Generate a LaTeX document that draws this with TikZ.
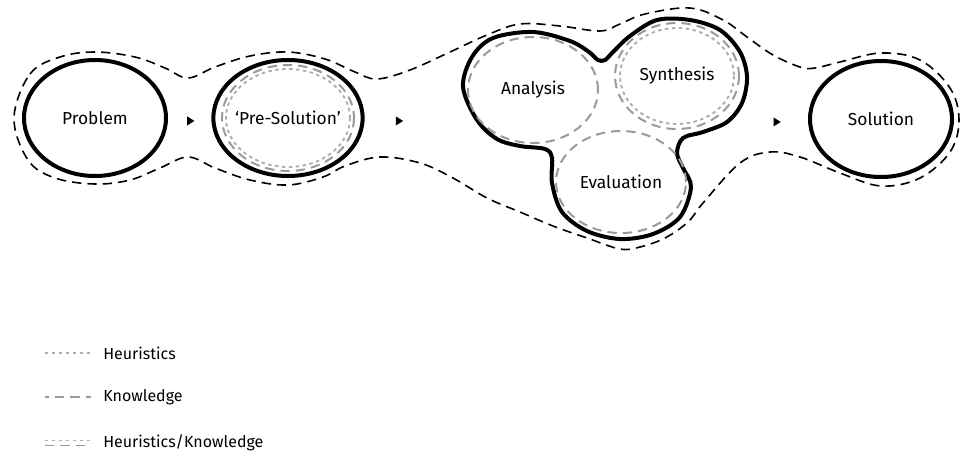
\documentclass[tikz,border=0pt]{standalone}
\usepackage{fontspec}
\setmainfont{Fira Sans}
\usetikzlibrary{shapes.geometric,calc}
\definecolor{knowgrey}{HTML}{9A9A9A}
\definecolor{heurgrey}{HTML}{ADADAD}
\tikzset{
  stage/.style={ellipse, draw=black, line width=3pt, minimum width=106.5pt, minimum height=87pt, inner sep=0pt, font=\fontsize{13}{15}\selectfont},
  ring/.style={ellipse, inner sep=0pt, font=\fontsize{13}{15}\selectfont},
  know/.style={draw=knowgrey, line width=1.5pt, dash pattern=on 7pt off 4.5pt},
  heur/.style={draw=heurgrey, line width=1.4pt, dash pattern=on 2.6pt off 2.6pt},
  env/.style={draw=black, line width=1.2pt, dash pattern=on 7pt off 4.5pt},
  blob/.style={draw=black, line width=3pt},
  tri/.style={isosceles triangle, isosceles triangle stretches, fill=black, inner sep=0pt, minimum width=6.8pt, minimum height=5.4pt, yshift=-2.2pt},
  key/.style={anchor=west, inner sep=0pt, font=\fontsize{12}{14}\selectfont},
}

\begin{document}
\begin{tikzpicture}[x=0.75pt, y=-0.75pt]
  \useasboundingbox (0,0) rectangle (963,457);
  \draw[env] plot[smooth cycle, tension=0.6] coordinates {
    (14,118) (30,74) (60,57) (95,52) (135,57) (165,68) (188,78) (215,67) (250,56) (288,52)
    (325,59) (355,72) (377,79) (410,70) (450,52) (487,35) (520,24) (560,26) (600,31) (620,24)
    (645,14) (690,8) (723,20) (747,37) (773,55) (800,67) (815,68) (840,62) (881,53) (920,60)
    (950,88) (959,120) (950,152) (920,178) (881,186) (840,173) (800,157) (770,152) (740,163)
    (703,203) (688,222) (665,238) (640,247) (620,249) (587,238) (553,226) (520,212) (487,198)
    (453,178) (420,163) (380,157) (345,166) (323,177) (288,185) (250,180) (215,168) (188,157)
    (160,168) (130,180) (95,184) (55,178) (28,160)};
  \draw[blob] plot[smooth cycle, tension=0.55] coordinates {
    (463,87) (472,57) (493,38) (533,32) (570,41) (589,52) (598,60) (605,60) (613,52) (630,36) (657,20)
    (690,20) (720,30) (740,52) (747,77) (742,103) (727,122) (703,132) (683,138) (677,153)
    (683,168) (691,187) (680,217) (653,234) (620,239) (587,231) (562,212) (552,183) (552,158)
    (545,149) (520,146) (497,139) (477,120)};

  \node[stage] (prob) at (95,118) {Problem};
  \node[stage] (pre) at (288,118) {‘Pre-Solution’};
  \node[stage] (sol) at (881,119) {Solution};
  \draw[know] (pre.center) ellipse [x radius=66, y radius=53];
  \draw[heur] (pre.center) ellipse [x radius=62, y radius=49];

  \node[ring, know, minimum width=97.5pt, minimum height=79.5pt] (ana) at (533,90) {Analysis};
  \node[ring, know, minimum width=93pt, minimum height=79.5pt] (syn) at (677,76) {Synthesis};
  \draw[heur] (syn.center) ellipse [x radius=57, y radius=48];
  \node[ring, know, minimum width=97.5pt, minimum height=76.5pt] (eva) at (621,182) {Evaluation};

  \path (prob) -- node[tri] {} (pre);
  \path (pre.east) -- node[tri, pos=0.33] {} (ana.west |- pre.east);
  \path (syn.east |- sol.west) -- node[tri, pos=0.53] {} (sol.west);

  \foreach \nm/\y/\tx in {legh/353/Heuristics, legk/397/Knowledge, leghk/443/{Heuristics/Knowledge}}
    \node[key] (\nm) at (103,\y) {\tx};
  \draw[heur] ($(legh.west)+(-58,0)$) -- ($(legh.west)+(-12,0)$);
  \draw[know, dash phase=4pt] ($(legk.west)+(-58,0)$) -- ($(legk.west)+(-12,0)$);
  \draw[heur] ($(leghk.west)+(-58,-2.5)$) -- ($(leghk.west)+(-12,-2.5)$);
  \draw[know, line width=1.2pt] ($(leghk.west)+(-58,2.5)$) -- ($(leghk.west)+(-12,2.5)$);
\end{tikzpicture}
\end{document}
